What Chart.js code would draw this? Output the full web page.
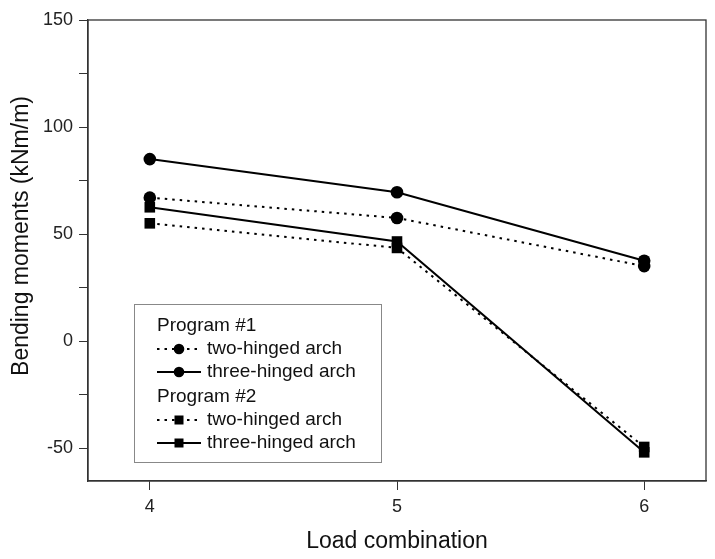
<!DOCTYPE html>
<html>
<head>
<meta charset="utf-8">
<script src="https://cdn.jsdelivr.net/npm/chart.js@4"></script>
<style>
  html, body { margin: 0; padding: 0; background: #fff; }
  #wrap { width: 715px; height: 559px; }
</style>
</head>
<body>
<div id="wrap"><canvas id="chart"></canvas></div>
<script>
const loadCombos = [4, 5, 6];
const p1TwoHinged = [67, 57.5, 35];
const p1ThreeHinged = [85, 69.5, 37.5];
const p2TwoHinged = [55, 43.5, -49.5];
const p2ThreeHinged = [62.5, 46.5, -52];
const yTicks = [-50, 0, 50, 100, 150];
const yTitle = 'Bending moments (kNm/m)';

const FONT = '"Liberation Sans", Arial, sans-serif';
const DOTS = [2.5, 5];

function toPoints(values) {
    return loadCombos.map((x, i) => ({ x: x, y: values[i] }));
}

function series(label, values, style, dashed) {
    return {
        label: label,
        data: toPoints(values),
        borderColor: '#000',
        backgroundColor: '#000',
        borderWidth: 2,
        borderDash: dashed ? DOTS : [],
        pointStyle: style,
        pointRadius: style === 'circle' ? 6.3 : 7.5,
        pointHoverRadius: style === 'circle' ? 6.3 : 7.5,
        pointBorderWidth: 0,
        fill: false,
        tension: 0
    };
}

// frame around the plot area + y title (sits a bit above the axis centre)
const frame = {
    id: 'frame',
    afterDraw(chart) {
        const a = chart.chartArea;
        const ctx = chart.ctx;
        ctx.save();
        ctx.strokeStyle = '#333';
        ctx.lineWidth = 1.3;
        ctx.strokeRect(a.left, a.top, a.right - a.left, a.bottom - a.top);
        ctx.translate(22, 236);
        ctx.rotate(-Math.PI / 2);
        ctx.font = '23px ' + FONT;
        ctx.fillStyle = '#111';
        ctx.textAlign = 'center';
        ctx.textBaseline = 'middle';
        ctx.fillText(yTitle, 0, 0);
        ctx.restore();
    }
};

// grouped legend (headers + line samples)
const groupLegend = {
    id: 'groupLegend',
    afterDraw(chart) {
        const ctx = chart.ctx;
        const ds = chart.data.datasets;
        const rows = [
            { text: 'Program #1', y: 326 },
            { ds: ds[0], text: 'two-hinged arch', y: 349 },
            { ds: ds[1], text: 'three-hinged arch', y: 372 },
            { text: 'Program #2', y: 397 },
            { ds: ds[2], text: 'two-hinged arch', y: 420 },
            { ds: ds[3], text: 'three-hinged arch', y: 443 }
        ];
        ctx.save();
        ctx.fillStyle = '#fff';
        ctx.fillRect(134, 304, 247, 158);
        ctx.strokeStyle = '#888';
        ctx.lineWidth = 1;
        ctx.strokeRect(134.5, 304.5, 247, 158);
        ctx.font = '19px ' + FONT;
        ctx.textBaseline = 'middle';
        ctx.fillStyle = '#111';
        rows.forEach(r => {
            if (!r.ds) {
                ctx.fillText(r.text, 157, r.y);
                return;
            }
            ctx.strokeStyle = '#000';
            ctx.lineWidth = 2;
            ctx.setLineDash(r.ds.borderDash);
            ctx.beginPath();
            ctx.moveTo(157, r.y);
            ctx.lineTo(201, r.y);
            ctx.stroke();
            ctx.setLineDash([]);
            ctx.fillStyle = '#000';
            if (r.ds.pointStyle === 'circle') {
                ctx.beginPath();
                ctx.arc(179, r.y, 5.3, 0, Math.PI * 2);
                ctx.fill();
            } else {
                ctx.fillRect(174.5, r.y - 4.5, 9, 9);
            }
            ctx.fillStyle = '#111';
            ctx.fillText(r.text, 207, r.y);
        });
        ctx.restore();
    }
};

const ctx = document.getElementById('chart');
new Chart(ctx, {
    type: 'line',
    data: {
        datasets: [
            series('Program #1 two-hinged arch', p1TwoHinged, 'circle', true),
            series('Program #1 three-hinged arch', p1ThreeHinged, 'circle', false),
            series('Program #2 two-hinged arch', p2TwoHinged, 'rect', true),
            series('Program #2 three-hinged arch', p2ThreeHinged, 'rect', false)
        ]
    },
    options: {
        responsive: true,
        maintainAspectRatio: false,
        animation: false,
        layout: { padding: { top: 20, right: 9, left: 0, bottom: 0 } },
        plugins: {
            legend: { display: false },
            tooltip: { enabled: false }
        },
        scales: {
            x: {
                type: 'linear',
                min: 3.75,
                max: 6.25,
                afterBuildTicks: s => { s.ticks = loadCombos.map(v => ({ value: v })); },
                ticks: { font: { family: FONT, size: 18 }, color: '#222', padding: 6 },
                grid: { drawOnChartArea: false, drawTicks: true, tickLength: 9, color: '#333' },
                border: { display: true, color: '#333', width: 1.3 },
                title: { display: true, text: 'Load combination', font: { family: FONT, size: 23 }, color: '#111', padding: { top: 6 } },
                afterFit: s => { s.height = 78; }
            },
            y: {
                min: -65.4,
                max: 150,
                afterBuildTicks: s => {
                    const t = [];
                    for (let v = -50; v <= 150; v += 25) t.push({ value: v });
                    s.ticks = t;
                },
                ticks: {
                    font: { family: FONT, size: 18 }, color: '#222', padding: 6,
                    callback: v => (yTicks.includes(v) ? String(v) : '')
                },
                grid: { drawOnChartArea: false, drawTicks: true, tickLength: 9, color: '#333' },
                border: { display: true, color: '#333', width: 1.3 },
                title: { display: false },
                afterFit: s => { s.width = 88; }
            }
        }
    },
    plugins: [frame, groupLegend]
});
</script>
</body>
</html>
